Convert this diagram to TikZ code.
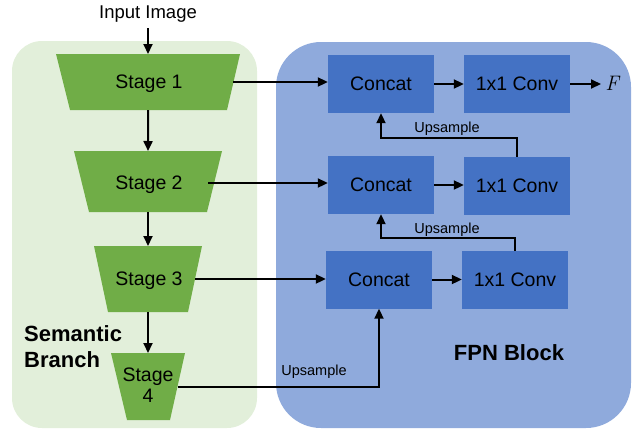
\documentclass[tikz,border=0pt]{standalone}
\usepackage{fontspec}
\setmainfont{Liberation Sans}
\newfontfamily\lmfont{Latin Modern Roman}
\usetikzlibrary{arrows.meta}
\definecolor{lgreen}{HTML}{E2EFDA}
\definecolor{dgreen}{HTML}{70AD47}
\definecolor{lblue}{HTML}{8FAADC}
\definecolor{dblue}{HTML}{4472C4}
\tikzset{
  arr/.style={line width=2pt,-{Triangle[length=10pt,width=9pt]}},
  stagefill/.style={fill=dgreen},
  stagelbl/.style={inner sep=0pt,font=\fontsize{19.5}{22}\selectfont,align=center},
  bluebox/.style={fill=dblue,inner sep=0pt,minimum width=106pt,minimum height=58pt,font=\fontsize{19.5}{22}\selectfont},
  uplbl/.style={font=\fontsize{14.5}{16}\selectfont,inner sep=0pt,text depth=0pt},
  bold/.style={font=\fontsize{22}{26}\selectfont\bfseries,inner sep=0pt,align=left}
}
\begin{document}
\begin{tikzpicture}[x=1pt,y=-1pt]
\useasboundingbox (0,0) rectangle (636,429);
% backgrounds
\fill[lgreen,rounded corners=30pt] (12,41) rectangle (257,428);
\fill[lblue,rounded corners=45pt] (276,42) rectangle (631,428);
% trapezoids
\fill[stagefill] (56,54) -- (240,54) -- (227,110) -- (70,110) -- cycle;
\fill[stagefill] (74,151) -- (222,151) -- (207,212) -- (89,212) -- cycle;
\fill[stagefill] (94,246) -- (202,246) -- (188,312) -- (108,312) -- cycle;
\fill[stagefill] (111,353) -- (185,353) -- (170,420) -- (127,420) -- cycle;
% stage label texts
\node[stagelbl,text depth=0pt] (t1) at (149,81.5) {Stage 1};
\node[stagelbl,text depth=0pt] (t2) at (149,182.5) {Stage 2};
\node[stagelbl,text depth=0pt] (t3) at (149,278.5) {Stage 3};
\node[stagelbl] (t4) at (148,385) {Stage\\[-1pt]4};
% stage anchors
\node[minimum width=170pt,minimum height=56pt,inner sep=0pt] (s1) at (148.2,82) {};
\node[minimum width=126pt,minimum height=61pt,inner sep=0pt] (s2) at (148,181.5) {};
\node[minimum width=94pt,minimum height=66pt,inner sep=0pt] (s3) at (148,279) {};
\node[minimum width=60pt,minimum height=67pt,inner sep=0pt] (s4) at (148,386.5) {};
\coordinate (s4e) at (177.5,387);
\node[font=\fontsize{18.5}{22}\selectfont,inner sep=0pt,text depth=0pt] (in) at (148,12) {Input Image};
\coordinate (inb) at (148,28);
% blue boxes
\node[bluebox] (c1) at (381,84) {Concat};
\node[bluebox] (v1) at (517,84) {1x1 Conv};
\node[bluebox] (c2) at (381,185) {Concat};
\node[bluebox] (v2) at (517,186) {1x1 Conv};
\node[bluebox] (c3) at (379,279.5) {Concat};
\node[bluebox] (v3) at (515,280) {1x1 Conv};
\node[font=\fontsize{21}{24}\selectfont\lmfont\itshape,inner sep=0pt] (F) at (612,83) {F};
% texts
\node[bold,anchor=west] (sb) at (24,347) {Semantic\\Branch};
\node[bold] (fpn) at (509,353) {FPN Block};
\node[uplbl] (u1) at (447,127) {Upsample};
\node[uplbl] (u2) at (447,228) {Upsample};
\node[uplbl] (u3) at (314,370) {Upsample};
% arrows
\draw[arr] (inb) -- (148,54);
\draw[arr] (s1.south) -- (148,151);
\draw[arr] (s2.south) -- (148,246);
\draw[arr] (s3.south) -- (148,353);
\draw[arr] (s1.east) -- (s1.east -| c1.west);
\draw[arr] (208,183) -- (c2.west |- 208,183);
\draw[arr] (s3.east) -- (s3.east -| c3.west);
\draw[arr] (s4e) -| (c3.south);
\draw[arr] (c1.east) -- (v1.west);
\draw[arr] (c2.east) -- (c2.east -| v2.west);
\draw[arr] (c3.east) -- (c3.east -| v3.west);
\draw[arr] (v1.east) -- (601,84);
\draw[arr] (v2.north) -- ++(0,-19) -| (c1.south);
\draw[arr] (v3.north) -- ++(0,-13) -| (c2.south);
\end{tikzpicture}
\end{document}
